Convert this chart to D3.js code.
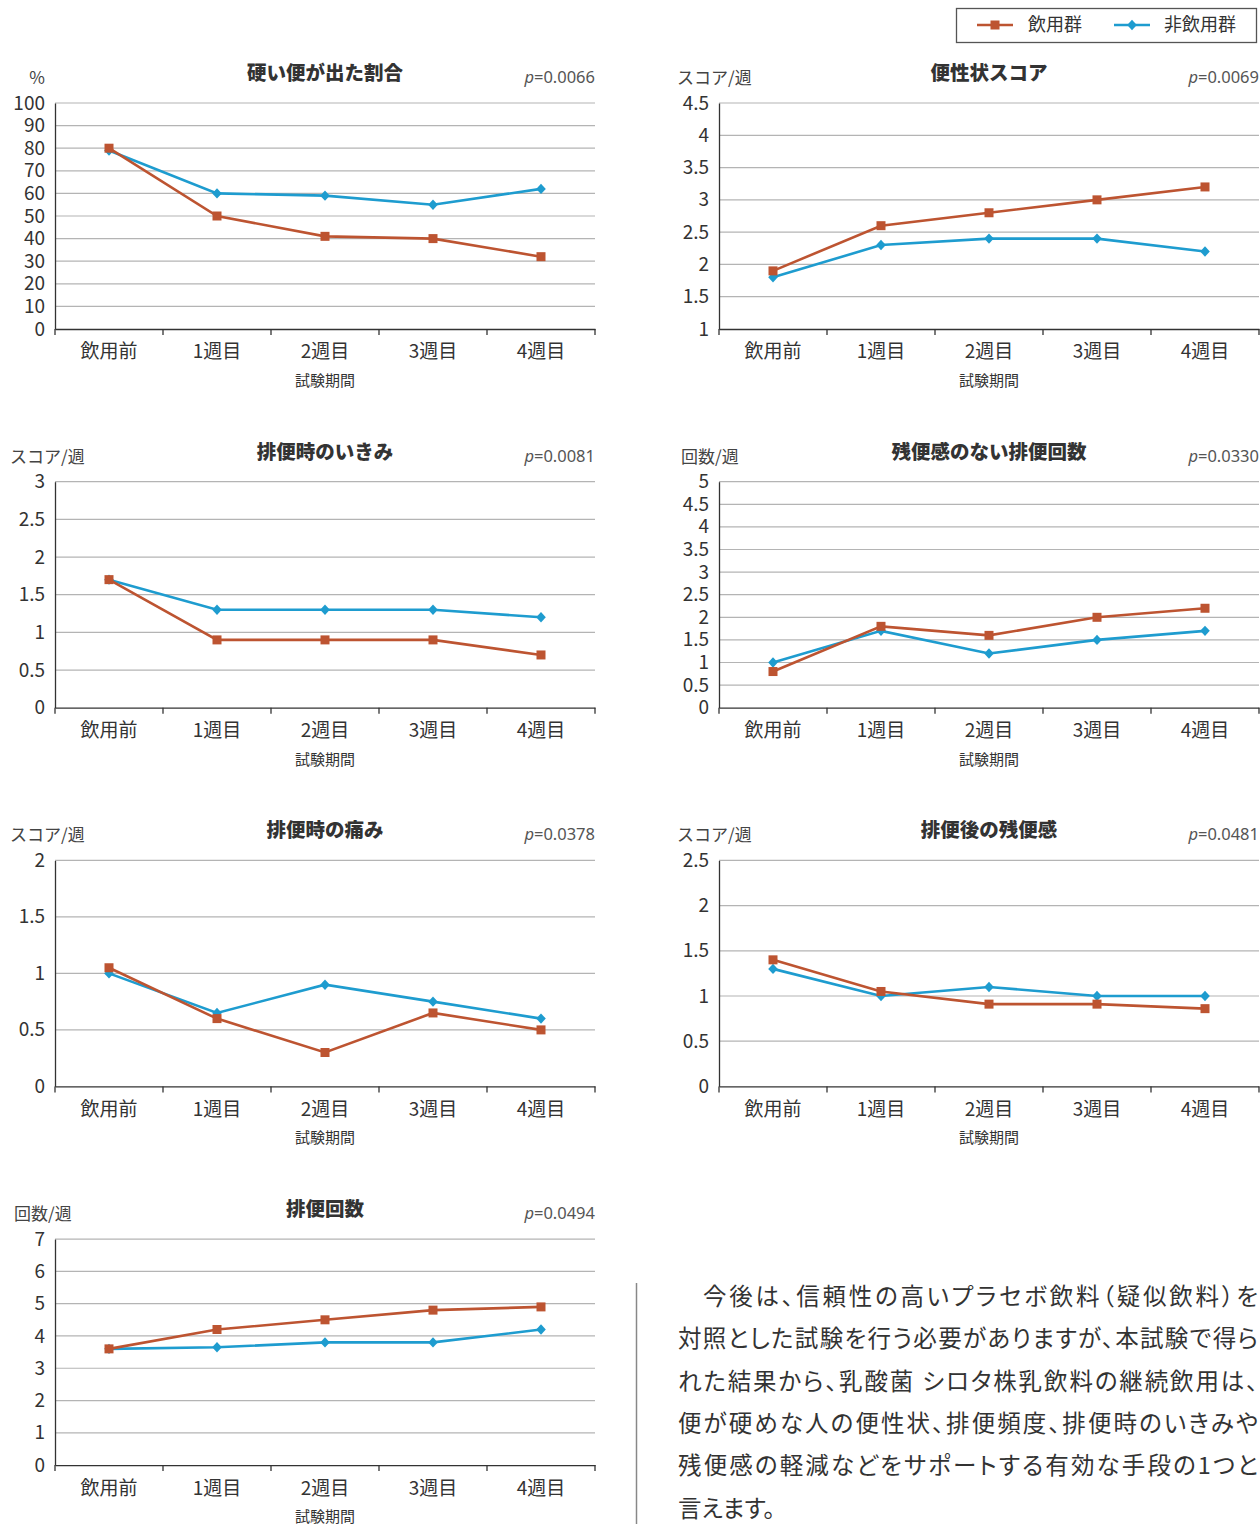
<!DOCTYPE html>
<html>
<head>
<meta charset="utf-8">
<script src="https://cdn.jsdelivr.net/npm/d3@7"></script>
<style>
  body { margin: 0; background: #fff; }
  svg { display: block; font-family: "Noto Sans CJK JP", "Noto Sans", sans-serif; }
</style>
</head>
<body>
<div id="chart"></div>
<script>
// categories and series
const periods = ["飲用前", "1週目", "2週目", "3週目", "4週目"];
const seriesNames = ["飲用群", "非飲用群"];

const titles = ["硬い便が出た割合", "便性状スコア", "排便時のいきみ", "残便感のない排便回数", "排便時の痛み", "排便後の残便感", "排便回数"];
const units = ["%", "スコア/週", "スコア/週", "回数/週", "スコア/週", "スコア/週", "回数/週"];
const pValues = ["0.0066", "0.0069", "0.0081", "0.0330", "0.0378", "0.0481", "0.0494"];

// y tick labels per chart
const yTicks = [
    [0, 10, 20, 30, 40, 50, 60, 70, 80, 90, 100],
    [1, 1.5, 2, 2.5, 3, 3.5, 4, 4.5],
    [0, 0.5, 1, 1.5, 2, 2.5, 3],
    [0, 0.5, 1, 1.5, 2, 2.5, 3, 3.5, 4, 4.5, 5],
    [0, 0.5, 1, 1.5, 2],
    [0, 0.5, 1, 1.5, 2, 2.5],
    [0, 1, 2, 3, 4, 5, 6, 7]
];

// 飲用群
const drinkValues = [
    [80, 50, 41, 40, 32],
    [1.9, 2.6, 2.8, 3.0, 3.2],
    [1.7, 0.9, 0.9, 0.9, 0.7],
    [0.8, 1.8, 1.6, 2.0, 2.2],
    [1.05, 0.6, 0.3, 0.65, 0.5],
    [1.4, 1.05, 0.91, 0.91, 0.86],
    [3.6, 4.2, 4.5, 4.8, 4.9]
];
// 非飲用群
const nonDrinkValues = [
    [79, 60, 59, 55, 62],
    [1.8, 2.3, 2.4, 2.4, 2.2],
    [1.7, 1.3, 1.3, 1.3, 1.2],
    [1.0, 1.7, 1.2, 1.5, 1.7],
    [1.0, 0.65, 0.9, 0.75, 0.6],
    [1.3, 1.0, 1.1, 1.0, 1.0],
    [3.6, 3.65, 3.8, 3.8, 4.2]
];

const paragraph = [
    "今後は、信頼性の高いプラセボ飲料（疑似飲料）を",
    "対照とした試験を行う必要がありますが、本試験で得ら",
    "れた結果から、乳酸菌 シロタ株乳飲料の継続飲用は、",
    "便が硬めな人の便性状、排便頻度、排便時のいきみや",
    "残便感の軽減などをサポートする有効な手段の1つと",
    "言えます。"
];

const COLORS = { DRINK: "#bd5431", NON: "#1e9ccf", GRID: "#b4b4b4", AXIS: "#333" };

const W = 1260, H = 1524;
const svg = d3.select("#chart").append("svg")
    .attr("width", W)
    .attr("height", H);

const plotW = 540, plotH = 226, rowStep = 378.7, firstTop = 103;
const colLeft = [55, 719];

const diamond = "M0,-5.2L4.8,0L0,5.2L-4.8,0Z";

function drawMarker(g, kind, color) {
    if (kind === 0) {
        g.append("rect").attr("x", -4.5).attr("y", -4.5).attr("width", 9).attr("height", 9).attr("fill", color);
    } else {
        g.append("path").attr("d", diamond).attr("fill", color);
    }
}

titles.forEach((title, i) => {
    const col = i % 2, row = Math.floor(i / 2);
    const left = colLeft[col];
    const top = firstTop + row * rowStep;
    const bottom = top + plotH;
    const ticks = yTicks[i];

    const x = d3.scaleBand().domain(periods).range([left, left + plotW]);
    const y = d3.scaleLinear().domain(d3.extent(ticks)).range([bottom, top]);

    const g = svg.append("g");

    // gridlines
    g.append("g")
        .selectAll("line")
        .data(ticks.slice(1))
        .join("line")
        .attr("x1", left).attr("x2", left + plotW)
        .attr("y1", d => y(d)).attr("y2", d => y(d))
        .attr("stroke", COLORS.GRID)
        .attr("stroke-width", 1.2);

    // y axis
    const yAxis = g.append("g")
        .attr("transform", `translate(${left},0)`)
        .call(d3.axisLeft(y).tickValues(ticks).tickSize(0).tickPadding(10).tickFormat(d => String(d)));
    yAxis.select(".domain").attr("stroke", COLORS.AXIS).attr("stroke-width", 1.3);
    yAxis.selectAll("text")
        .style("font-size", "19px")
        .style("font-family", "'Noto Sans CJK JP', sans-serif")
        .attr("fill", "#333");

    // x axis
    const xAxis = g.append("g")
        .attr("transform", `translate(0,${bottom})`)
        .call(d3.axisBottom(x).tickSize(0).tickPadding(16));
    xAxis.select(".domain").attr("stroke", COLORS.AXIS).attr("stroke-width", 1.3);
    xAxis.selectAll("text")
        .style("font-size", "19px")
        .style("font-family", "'Noto Sans CJK JP', sans-serif")
        .attr("fill", "#333");

    // boundary ticks
    const edges = periods.map(d => x(d)).concat([x.range()[1]]);
    g.append("g")
        .selectAll("line")
        .data(edges)
        .join("line")
        .attr("x1", d => d).attr("x2", d => d)
        .attr("y1", bottom).attr("y2", bottom + 6)
        .attr("stroke", COLORS.AXIS)
        .attr("stroke-width", 1.3);

    // x title
    g.append("text")
        .attr("x", left + plotW / 2)
        .attr("y", bottom + 57)
        .attr("text-anchor", "middle")
        .style("font-size", "15px")
        .attr("fill", "#333")
        .text("試験期間");

    // chart title
    g.append("text")
        .attr("x", left + plotW / 2)
        .attr("y", top - 23)
        .attr("text-anchor", "middle")
        .style("font-size", "19.5px")
        .style("font-weight", "900")
        .attr("fill", "#333")
        .text(title);

    // unit
    const unitX = col === 0 ? 10 : 677;
    g.append("text")
        .attr("x", units[i] === "%" ? unitX + 27 : unitX + (units[i].length === 4 ? 4 : 0))
        .attr("y", top - 19)
        .attr("text-anchor", units[i] === "%" ? "middle" : "start")
        .style("font-size", "17px")
        .attr("fill", "#444")
        .text(units[i]);

    // p value
    const pt = g.append("text")
        .attr("x", left + plotW)
        .attr("y", top - 20)
        .attr("text-anchor", "end")
        .style("font-size", "16.5px")
        .style("font-family", "'Noto Sans', sans-serif")
        .attr("fill", "#555");
    pt.append("tspan").style("font-style", "italic").text("p");
    pt.append("tspan").text("=" + pValues[i]);

    // lines
    const line = d3.line()
        .x((d, j) => x(periods[j]) + x.bandwidth() / 2)
        .y(d => y(d));

    const seriesData = [
        { vals: drinkValues[i], color: COLORS.DRINK, kind: 0 },
        { vals: nonDrinkValues[i], color: COLORS.NON, kind: 1 }
    ];
    // draw non-drinking first so drinking sits on top
    [seriesData[1], seriesData[0]].forEach(s => {
        g.append("path")
            .datum(s.vals)
            .attr("d", line)
            .attr("fill", "none")
            .attr("stroke", s.color)
            .attr("stroke-width", 2.6);
        s.vals.forEach((v, j) => {
            const m = g.append("g")
                .attr("transform", `translate(${x(periods[j]) + x.bandwidth() / 2},${y(v)})`);
            drawMarker(m, s.kind, s.color);
        });
    });
});

// legend
const legend = svg.append("g");
legend.append("rect")
    .attr("x", 956.5).attr("y", 8.5)
    .attr("width", 300).attr("height", 34)
    .attr("fill", "#fff")
    .attr("stroke", "#555")
    .attr("stroke-width", 1.3);
const legendItems = [
    { name: seriesNames[0], color: COLORS.DRINK, kind: 0, x0: 977, tx: 1028 },
    { name: seriesNames[1], color: COLORS.NON, kind: 1, x0: 1114, tx: 1164 }
];
legendItems.forEach(it => {
    legend.append("line")
        .attr("x1", it.x0).attr("x2", it.x0 + 36)
        .attr("y1", 25).attr("y2", 25)
        .attr("stroke", it.color)
        .attr("stroke-width", 2.6);
    const m = legend.append("g").attr("transform", `translate(${it.x0 + 18},25)`);
    drawMarker(m, it.kind, it.color);
    legend.append("text")
        .attr("x", it.tx).attr("y", 25)
        .attr("dy", "0.35em")
        .style("font-size", "18px")
        .attr("fill", "#333")
        .text(it.name);
});

// separator and paragraph
svg.append("line")
    .attr("x1", 636.5).attr("x2", 636.5)
    .attr("y1", 1283).attr("y2", H)
    .attr("stroke", "#888")
    .attr("stroke-width", 1.5);

const para = svg.append("g");
paragraph.forEach((t, k) => {
    const tx = para.append("text")
        .attr("x", k === 0 ? 703 : 678)
        .attr("y", 1305 + k * 42.3)
        .style("font-size", "23.5px")
        .style("font-feature-settings", "'palt'")
        .attr("fill", "#333")
        .text(t);
    if (k < paragraph.length - 1) {
        tx.attr("textLength", k === 0 ? 555 : 580).attr("lengthAdjust", "spacing");
    }
});
</script>
</body>
</html>
